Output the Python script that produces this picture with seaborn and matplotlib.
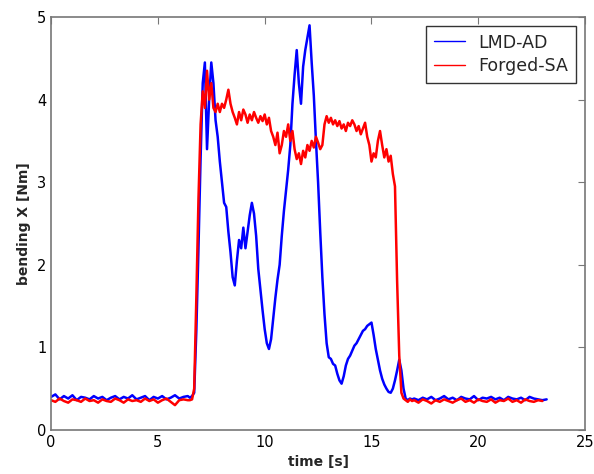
import numpy as np
import pandas as pd
import matplotlib
matplotlib.use('Agg')
import matplotlib.pyplot as plt
import seaborn as sns

## Datos (muestreo: 0.2 s en reposo, 0.1 s en la zona activa)
t_pre = np.round(np.arange(0.0, 6.41, 0.2), 2)
t_act = np.round(np.arange(6.5, 16.91, 0.1), 2)
t_post_lmd = np.round(np.arange(17.0, 23.21, 0.2), 2)
t_post_forged = np.round(np.arange(17.0, 23.01, 0.2), 2)

lmd_pre = [0.40, 0.43, 0.37, 0.41, 0.38, 0.42, 0.36, 0.40, 0.39, 0.37, 0.41,
           0.38, 0.40, 0.36, 0.39, 0.41, 0.37, 0.40, 0.38, 0.42, 0.37, 0.39,
           0.41, 0.36, 0.40, 0.38, 0.41, 0.37, 0.39, 0.42, 0.38, 0.40, 0.41]
lmd_act = [0.39, 0.41, 0.45, 1.20, 2.20, 3.30, 4.20, 4.45, 3.40, 4.00,
           4.45, 4.20, 3.75, 3.55, 3.25, 3.00, 2.75, 2.70, 2.40, 2.15,
           1.85, 1.75, 2.05, 2.30, 2.20, 2.45, 2.20, 2.40, 2.60, 2.75,
           2.62, 2.35, 1.95, 1.70, 1.45, 1.22, 1.05, 0.98, 1.10, 1.35,
           1.60, 1.82, 2.00, 2.35, 2.65, 2.90, 3.15, 3.45, 3.95, 4.30,
           4.60, 4.20, 3.95, 4.40, 4.60, 4.75, 4.90, 4.45, 4.05, 3.50,
           3.00, 2.40, 1.85, 1.40, 1.05, 0.88, 0.86, 0.80, 0.78, 0.68,
           0.60, 0.56, 0.65, 0.78, 0.86, 0.90, 0.96, 1.02, 1.05, 1.10,
           1.15, 1.20, 1.22, 1.26, 1.28, 1.30, 1.15, 0.98, 0.85, 0.72,
           0.62, 0.55, 0.50, 0.46, 0.45, 0.50, 0.60, 0.72, 0.85, 0.72,
           0.50, 0.38, 0.36, 0.38, 0.37]
lmd_post = [0.38, 0.36, 0.39, 0.37, 0.40, 0.36, 0.38, 0.41, 0.37, 0.39,
            0.36, 0.40, 0.38, 0.37, 0.41, 0.36, 0.39, 0.38, 0.40, 0.37,
            0.39, 0.36, 0.40, 0.38, 0.37, 0.39, 0.36, 0.40, 0.38, 0.37,
            0.36, 0.37]

forged_pre = [0.36, 0.34, 0.38, 0.35, 0.33, 0.37, 0.36, 0.34, 0.38, 0.35, 0.36,
              0.33, 0.37, 0.35, 0.34, 0.38, 0.36, 0.33, 0.37, 0.35, 0.36, 0.34,
              0.38, 0.35, 0.37, 0.33, 0.36, 0.38, 0.34, 0.30, 0.36, 0.37, 0.36]
forged_act = [0.36, 0.37, 0.50, 1.60, 2.80, 3.70, 4.10, 3.90, 4.35, 4.00,
              4.20, 3.90, 3.85, 3.95, 3.85, 3.95, 3.90, 4.00, 4.12, 3.95,
              3.85, 3.78, 3.70, 3.85, 3.75, 3.88, 3.82, 3.72, 3.82, 3.75,
              3.85, 3.78, 3.72, 3.80, 3.74, 3.82, 3.70, 3.78, 3.62, 3.55,
              3.45, 3.60, 3.35, 3.45, 3.62, 3.55, 3.70, 3.50, 3.62, 3.40,
              3.28, 3.35, 3.22, 3.38, 3.30, 3.45, 3.38, 3.50, 3.42, 3.55,
              3.48, 3.40, 3.45, 3.70, 3.80, 3.72, 3.78, 3.70, 3.75, 3.68,
              3.74, 3.65, 3.70, 3.62, 3.72, 3.68, 3.75, 3.70, 3.62, 3.68,
              3.58, 3.65, 3.72, 3.55, 3.45, 3.25, 3.35, 3.30, 3.50, 3.62,
              3.45, 3.30, 3.40, 3.25, 3.32, 3.10, 2.95, 1.80, 0.90, 0.45,
              0.38, 0.36, 0.34, 0.37, 0.35]
forged_post = [0.36, 0.33, 0.37, 0.35, 0.32, 0.36, 0.34, 0.37, 0.35, 0.33,
               0.36, 0.38, 0.34, 0.36, 0.33, 0.37, 0.35, 0.34, 0.37, 0.33,
               0.36, 0.35, 0.38, 0.34, 0.36, 0.33, 0.37, 0.35, 0.34, 0.36,
               0.35]

df_lmd = pd.DataFrame({'time': np.concatenate([t_pre, t_act, t_post_lmd]),
                       'bending': lmd_pre + lmd_act + lmd_post,
                       'serie': 'LMD-AD'})
df_forged = pd.DataFrame({'time': np.concatenate([t_pre, t_act, t_post_forged]),
                          'bending': forged_pre + forged_act + forged_post,
                          'serie': 'Forged-SA'})
df = pd.concat([df_lmd, df_forged], ignore_index=True)

## Grafico
sns.set_style('white')
plt.rcParams['font.family'] = ['DejaVu Sans']

fig = plt.figure(figsize=(5.94, 4.74), dpi=100)
ax = fig.add_axes([0.086, 0.093, 0.899, 0.871])
sns.lineplot(data=df, x='time', y='bending', hue='serie', estimator=None, sort=False,
             palette={'LMD-AD': 'blue', 'Forged-SA': 'red'}, linewidth=1.8, ax=ax)

ax.set_xlim(0, 25)
ax.set_ylim(0, 5)
ax.set_xticks([0, 5, 10, 15, 20, 25])
ax.set_yticks([0, 1, 2, 3, 4, 5])
ax.tick_params(direction='in', top=True, right=True, length=5, width=0.8,
               labelsize=10.5, colors='#777777', labelcolor='black')
for s in ax.spines.values():
    s.set_color('#777777')
    s.set_linewidth(1.2)
ax.set_xlabel('time [s]', fontweight='bold', fontsize=10)
ax.set_ylabel('bending X [Nm]', fontweight='bold', fontsize=10)

leg = ax.legend(loc='upper right', fontsize=12.5, fancybox=False, framealpha=1,
                edgecolor='#333333', handlelength=1.8, borderpad=0.45,
                labelspacing=0.3, borderaxespad=0.5)
for line in leg.get_lines():
    line.set_linewidth(1.0)

fig.savefig('out.png', dpi=100)
